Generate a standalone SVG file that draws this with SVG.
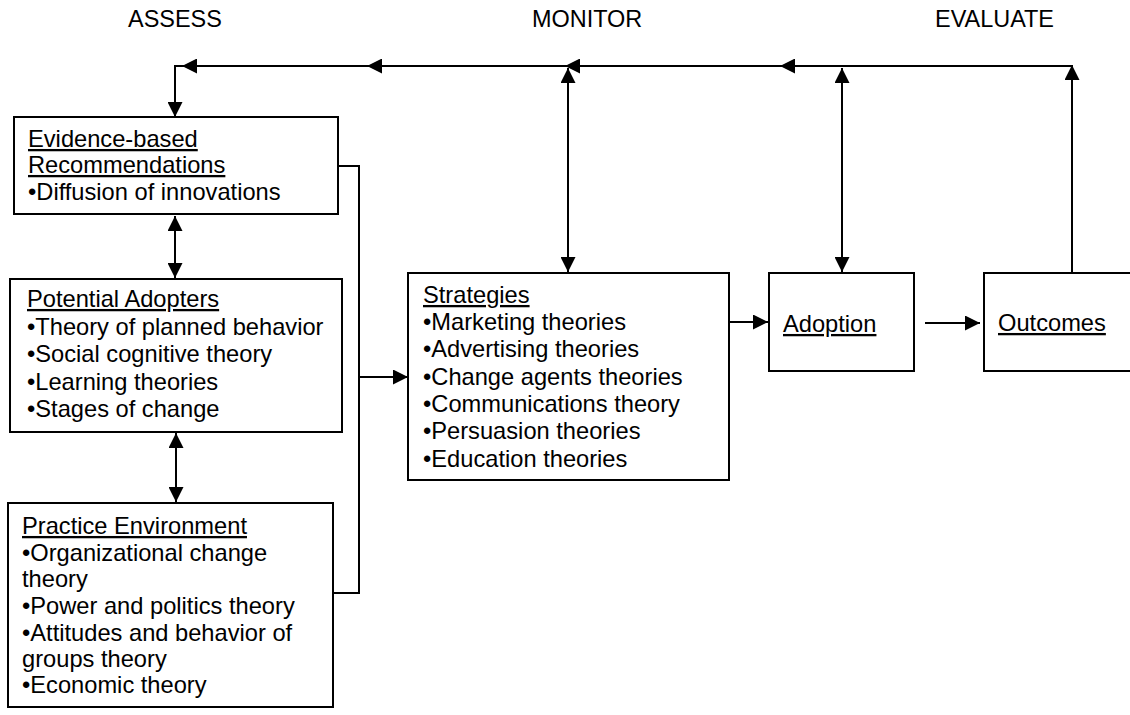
<svg xmlns="http://www.w3.org/2000/svg" width="1130" height="715" viewBox="0 0 1130 715">
<defs>
<marker id="ah" markerUnits="userSpaceOnUse" markerWidth="15" markerHeight="15" refX="15" refY="7.5" orient="auto-start-reverse">
<path d="M0,0 L15,7.5 L0,15 z" fill="#000"/>
</marker>
<style>
.box{fill:#fff;stroke:#000;stroke-width:2}
.c{fill:none;stroke:#000;stroke-width:2}
.t{font-family:"Liberation Sans",Arial,sans-serif;font-size:23px;fill:#000}
.u{text-decoration:underline}
</style>
</defs>
<rect width="1130" height="715" fill="#fff"/>
<g id="headers">
<g transform="translate(128 0) scale(1.02 1)"><text class="t" x="0" y="27">ASSESS</text></g>
<g transform="translate(532 0) scale(1.02 1)"><text class="t" x="0" y="27">MONITOR</text></g>
<g transform="translate(935 0) scale(1.02 1)"><text class="t" x="0" y="27">EVALUATE</text></g>
</g>
<g id="connectors">
<path class="c" d="M1072,66 L780,66" marker-end="url(#ah)"/>
<path class="c" d="M780,66 L565,66" marker-end="url(#ah)"/>
<path class="c" d="M565,66 L367,66" marker-end="url(#ah)"/>
<path class="c" d="M367,66 L182,66" marker-end="url(#ah)"/>
<path class="c" d="M182,66 L175,66 L175,117" marker-end="url(#ah)"/>
<path class="c" d="M1072,273 L1072,65" marker-end="url(#ah)"/>
<path class="c" d="M842,68 L842,272" marker-start="url(#ah)" marker-end="url(#ah)"/>
<path class="c" d="M568,68 L568,272" marker-start="url(#ah)" marker-end="url(#ah)"/>
<path class="c" d="M175,216 L175,278" marker-start="url(#ah)" marker-end="url(#ah)"/>
<path class="c" d="M176,433 L176,502" marker-start="url(#ah)" marker-end="url(#ah)"/>
<path class="c" d="M338,166 L359,166 L359,593 L333,593"/>
<path class="c" d="M359,377 L408,377" marker-end="url(#ah)"/>
<path class="c" d="M729,322 L768,322" marker-end="url(#ah)"/>
<path class="c" d="M925,323 L980,323" marker-end="url(#ah)"/>
</g>
<g id="evidence">
<rect class="box" x="14" y="117" width="324" height="97"/>
<g transform="translate(28 0) scale(1.03 1)">
<text class="t u" x="0" y="147">Evidence-based</text>
<text class="t u" x="0" y="173">Recommendations</text>
<text class="t" x="0" y="200">•Diffusion of innovations</text>
</g>
</g>
<g id="adopters">
<rect class="box" x="10" y="279" width="332" height="153"/>
<g transform="translate(27 0) scale(1.03 1)">
<text class="t u" x="0" y="307">Potential Adopters</text>
<text class="t" x="0" y="335">•Theory of planned behavior</text>
<text class="t" x="0" y="362">•Social cognitive theory</text>
<text class="t" x="0" y="390">•Learning theories</text>
<text class="t" x="0" y="417">•Stages of change</text>
</g>
</g>
<g id="practice">
<rect class="box" x="8" y="503" width="325" height="204"/>
<g transform="translate(22 0) scale(1.03 1)">
<text class="t u" x="0" y="534">Practice Environment</text>
<text class="t" x="0" y="561">•Organizational change</text>
<text class="t" x="0" y="587">theory</text>
<text class="t" x="0" y="614">•Power and politics theory</text>
<text class="t" x="0" y="641">•Attitudes and behavior of</text>
<text class="t" x="0" y="667">groups theory</text>
<text class="t" x="0" y="693">•Economic theory</text>
</g>
</g>
<g id="strategies">
<rect class="box" x="408" y="273" width="321" height="207"/>
<g transform="translate(423 0) scale(1.03 1)">
<text class="t u" x="0" y="303">Strategies</text>
<text class="t" x="0" y="330">•Marketing theories</text>
<text class="t" x="0" y="357">•Advertising theories</text>
<text class="t" x="0" y="385">•Change agents theories</text>
<text class="t" x="0" y="412">•Communications theory</text>
<text class="t" x="0" y="439">•Persuasion theories</text>
<text class="t" x="0" y="467">•Education theories</text>
</g>
</g>
<g id="adoption">
<rect class="box" x="769" y="273" width="145" height="98"/>
<g transform="translate(783 0) scale(1.03 1)"><text class="t u" x="0" y="332">Adoption</text></g>
</g>
<g id="outcomes">
<rect class="box" x="984" y="273" width="170" height="98"/>
<g transform="translate(998 0) scale(1.03 1)"><text class="t u" x="0" y="331">Outcomes</text></g>
</g>
</svg>
